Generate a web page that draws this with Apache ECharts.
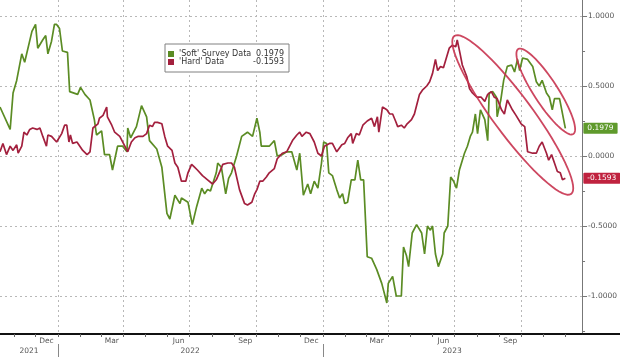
<!DOCTYPE html>
<html><head><meta charset="utf-8">
<script src="https://cdn.jsdelivr.net/npm/echarts@6/dist/echarts.min.js"></script>
<style>html,body{margin:0;padding:0;background:#fff}#c{width:620px;height:357px}</style>
</head><body><div id="c"></div>
<script>
// ---------- DATA ----------
const softName = "'Soft' Survey Data";
const hardName = "'Hard' Data";
const softDates = ['2021-10-13','2021-10-27','2021-10-31','2021-11-05','2021-11-12','2021-11-16','2021-11-26','2021-12-01','2021-12-04','2021-12-11','2021-12-15','2021-12-18','2021-12-23','2021-12-27','2021-12-30','2022-01-03','2022-01-07','2022-01-14','2022-01-17','2022-01-28','2022-02-01','2022-02-07','2022-02-14','2022-02-20','2022-02-23','2022-03-02','2022-03-06','2022-03-13','2022-03-17','2022-03-24','2022-03-31','2022-04-06','2022-04-07','2022-04-11','2022-04-19','2022-04-26','2022-05-03','2022-05-07','2022-05-17','2022-05-24','2022-05-31','2022-06-04','2022-06-11','2022-06-18','2022-06-20','2022-06-29','2022-07-05','2022-07-11','2022-07-18','2022-07-22','2022-07-26','2022-07-30','2022-08-02','2022-08-07','2022-08-09','2022-08-14','2022-08-20','2022-08-24','2022-08-28','2022-09-04','2022-09-11','2022-09-19','2022-09-26','2022-10-02','2022-10-06','2022-10-08','2022-10-19','2022-10-26','2022-10-30','2022-11-06','2022-11-12','2022-11-19','2022-11-26','2022-11-30','2022-12-05','2022-12-11','2022-12-15','2022-12-20','2022-12-25','2022-12-30','2023-01-02','2023-01-06','2023-01-09','2023-01-14','2023-01-20','2023-01-24','2023-01-28','2023-01-31','2023-02-04','2023-02-09','2023-02-14','2023-02-18','2023-02-22','2023-02-26','2023-03-03','2023-03-09','2023-03-16','2023-03-23','2023-03-30','2023-04-01','2023-04-07','2023-04-12','2023-04-19','2023-04-22','2023-04-26','2023-04-29','2023-05-04','2023-05-10','2023-05-17','2023-05-21','2023-05-25','2023-05-29','2023-06-01','2023-06-05','2023-06-09','2023-06-15','2023-06-17','2023-06-22','2023-06-26','2023-06-30','2023-07-04','2023-07-08','2023-07-15','2023-07-19','2023-07-23','2023-07-26','2023-07-30','2023-08-02','2023-08-06','2023-08-12','2023-08-16','2023-08-18','2023-08-23','2023-08-28','2023-08-29','2023-09-03','2023-09-07','2023-09-12','2023-09-18','2023-09-22','2023-09-26','2023-09-29','2023-10-03','2023-10-10','2023-10-17','2023-10-22','2023-10-26','2023-10-30','2023-11-05','2023-11-09','2023-11-13','2023-11-16','2023-11-23','2023-11-25','2023-12-01'];
const softValues = [0.35,0.19,0.45,0.54,0.73,0.67,0.89,0.94,0.77,0.83,0.86,0.73,0.82,0.94,0.94,0.91,0.75,0.74,0.46,0.44,0.49,0.44,0.40,0.26,0.15,0.18,0.01,0.01,-0.10,0.07,0.07,0.03,0.20,0.13,0.21,0.36,0.28,0.11,0.05,-0.08,-0.41,-0.45,-0.28,-0.34,-0.30,-0.33,-0.49,-0.36,-0.23,-0.27,-0.24,-0.25,-0.20,-0.12,-0.05,-0.08,-0.27,-0.16,-0.12,0.00,0.14,0.17,0.14,0.27,0.17,0.07,0.07,0.11,0.00,0.01,0.03,0.03,-0.10,0.02,-0.28,-0.20,-0.27,-0.18,-0.23,-0.05,0.10,0.09,-0.12,-0.14,-0.24,-0.30,-0.27,-0.34,-0.33,-0.17,-0.17,-0.03,-0.17,-0.17,-0.72,-0.73,-0.81,-0.91,-1.05,-0.91,-0.86,-1.00,-1.00,-0.65,-0.71,-0.79,-0.55,-0.49,-0.55,-0.70,-0.50,-0.53,-0.50,-0.70,-0.79,-0.70,-0.55,-0.50,-0.15,-0.18,-0.23,-0.10,0.02,0.07,0.14,0.17,0.30,0.16,0.33,0.26,0.11,0.45,0.46,0.42,0.28,0.40,0.54,0.64,0.65,0.60,0.69,0.61,0.70,0.69,0.64,0.53,0.50,0.54,0.45,0.42,0.33,0.41,0.41,0.40,0.1979];
const hardDates = ['2021-10-13','2021-10-17','2021-10-22','2021-10-27','2021-10-31','2021-11-05','2021-11-07','2021-11-12','2021-11-15','2021-11-19','2021-11-23','2021-11-27','2021-12-03','2021-12-07','2021-12-11','2021-12-16','2021-12-18','2021-12-23','2021-12-30','2022-01-06','2022-01-10','2022-01-13','2022-01-16','2022-01-18','2022-01-21','2022-01-27','2022-01-31','2022-02-04','2022-02-10','2022-02-14','2022-02-18','2022-02-25','2022-02-27','2022-03-04','2022-03-09','2022-03-10','2022-03-16','2022-03-20','2022-03-27','2022-04-03','2022-04-07','2022-04-12','2022-04-17','2022-04-21','2022-04-28','2022-05-03','2022-05-07','2022-05-11','2022-05-14','2022-05-18','2022-05-24','2022-05-28','2022-06-01','2022-06-07','2022-06-11','2022-06-15','2022-06-20','2022-06-26','2022-06-29','2022-07-04','2022-07-08','2022-07-12','2022-07-19','2022-07-26','2022-08-02','2022-08-07','2022-08-12','2022-08-16','2022-08-23','2022-08-28','2022-09-01','2022-09-08','2022-09-15','2022-09-19','2022-09-25','2022-09-29','2022-10-02','2022-10-06','2022-10-10','2022-10-15','2022-10-19','2022-10-26','2022-10-30','2022-11-06','2022-11-12','2022-11-20','2022-11-26','2022-11-30','2022-12-03','2022-12-09','2022-12-14','2022-12-20','2022-12-25','2022-12-30','2023-01-03','2023-01-10','2023-01-14','2023-01-20','2023-01-27','2023-01-31','2023-02-04','2023-02-09','2023-02-11','2023-02-16','2023-02-20','2023-02-25','2023-03-03','2023-03-09','2023-03-13','2023-03-17','2023-03-19','2023-03-24','2023-03-30','2023-04-03','2023-04-07','2023-04-11','2023-04-14','2023-04-19','2023-04-23','2023-04-27','2023-05-03','2023-05-07','2023-05-11','2023-05-14','2023-05-18','2023-05-24','2023-05-28','2023-06-01','2023-06-05','2023-06-08','2023-06-12','2023-06-16','2023-06-20','2023-06-24','2023-06-28','2023-07-03','2023-07-05','2023-07-09','2023-07-12','2023-07-18','2023-07-22','2023-07-26','2023-08-01','2023-08-07','2023-08-12','2023-08-16','2023-08-21','2023-08-25','2023-08-29','2023-09-04','2023-09-08','2023-09-12','2023-09-16','2023-09-19','2023-09-24','2023-10-01','2023-10-06','2023-10-10','2023-10-17','2023-10-22','2023-10-26','2023-10-30','2023-11-05','2023-11-08','2023-11-12','2023-11-16','2023-11-20','2023-11-24','2023-11-27','2023-12-01'];
const hardValues = [0.03,0.09,0.01,0.07,0.04,0.08,0.02,0.07,0.17,0.15,0.19,0.20,0.19,0.20,0.14,0.07,0.15,0.14,0.10,0.16,0.22,0.22,0.10,0.15,0.09,0.10,0.07,0.04,0.01,0.03,0.20,0.23,0.27,0.29,0.35,0.28,0.22,0.17,0.14,0.07,0.03,0.10,0.13,0.14,0.14,0.16,0.22,0.21,0.24,0.24,0.23,0.14,0.07,0.04,-0.05,-0.08,-0.18,-0.18,-0.12,-0.06,-0.08,-0.10,-0.14,-0.17,-0.20,-0.17,-0.11,-0.06,-0.05,-0.05,-0.08,-0.24,-0.34,-0.35,-0.33,-0.27,-0.24,-0.18,-0.18,-0.15,-0.12,-0.09,-0.02,0.02,0.03,0.11,0.15,0.17,0.14,0.17,0.16,0.10,0.02,0.00,0.07,0.09,0.09,0.03,0.08,0.09,0.13,0.16,0.09,0.16,0.15,0.22,0.25,0.27,0.21,0.28,0.17,0.35,0.33,0.30,0.30,0.25,0.21,0.22,0.20,0.23,0.26,0.30,0.38,0.44,0.47,0.50,0.53,0.59,0.69,0.61,0.64,0.63,0.70,0.77,0.79,0.78,0.83,0.73,0.65,0.57,0.48,0.45,0.42,0.42,0.39,0.44,0.46,0.42,0.41,0.33,0.30,0.40,0.36,0.33,0.29,0.23,0.21,0.03,0.02,0.02,0.07,0.10,0.02,-0.03,0.01,-0.05,-0.11,-0.12,-0.17,-0.1593];

// axis extents and tick / label positions
const axisStart = '2021-10-13';
const axisEnd = '2023-12-24';
const valueMin = -1.2714;
const valueMax = 1.1143;
const monthTickDates = ['2021-11-01','2021-12-01','2022-01-01','2022-02-01','2022-03-01','2022-04-01','2022-05-01','2022-06-01','2022-07-01','2022-08-01','2022-09-01','2022-10-01','2022-11-01','2022-12-01','2023-01-01','2023-02-01','2023-03-01','2023-04-01','2023-05-01','2023-06-01','2023-07-01','2023-08-01','2023-09-01','2023-10-01','2023-11-01','2023-12-01'];
const monthLabelDates = ['2021-12-16','2022-03-16','2022-06-16','2022-09-16','2022-12-16','2023-03-16','2023-06-16','2023-09-16'];
const quarterGridDates = ['2022-01-01','2022-04-01','2022-07-01','2022-10-01','2023-01-01','2023-04-01','2023-07-01','2023-10-01'];
const yearBoundaryDates = ['2022-01-01','2023-01-01'];
const yearLabelDates = ['2021-11-22','2022-07-02','2023-06-28'];
const yLabelValues = [-1, -0.5, 0, 0.5, 1];
const yMinorTickValues = [-1.25, -0.75, -0.25, 0.25, 0.75];
// hand-drawn annotation ellipses: [start date, start value], [end date, end value], half width (px)
const bigEllipse = [['2023-07-01', 0.857], ['2023-12-09', -0.271], 19.5];
const smallEllipse = [['2023-09-27', 0.764], ['2023-12-12', 0.157], 12];

// ---------- CHART ----------
const FONT = 'DejaVu Sans';
const GREEN = '#5b8c24';
const RED = '#a3203e';
const MONTHS = ['Jan','Feb','Mar','Apr','May','Jun','Jul','Aug','Sep','Oct','Nov','Dec'];
function ts(s) { return Date.UTC(+s.slice(0, 4), +s.slice(5, 7) - 1, +s.slice(8, 10)); }
const softLast = softValues[softValues.length - 1];
const hardLast = hardValues[hardValues.length - 1];
const lastOf = {}; lastOf[softName] = softLast; lastOf[hardName] = hardLast;
const xMin = ts(axisStart), xMax = ts(axisEnd);

const chart = echarts.init(document.getElementById('c'), null, {renderer: 'canvas'});
const gridLine = {show: true, lineStyle: {color: '#b8b8b8', width: 1, type: [2, 3]}};
const option = {
  animation: false,
  backgroundColor: '#fff',
  textStyle: {fontFamily: FONT},
  grid: [
    {left: 0, right: 37, top: 0, bottom: 23},
    {left: 583, right: 0, top: 0, bottom: 23}
  ],
  legend: {
    orient: 'vertical', left: 165, top: 44, icon: 'rect',
    itemWidth: 6, itemHeight: 6, itemGap: 0,
    padding: [6, 5, 6, 3],
    backgroundColor: '#fff', borderColor: '#808080', borderWidth: 1,
    data: [softName, hardName],
    formatter: function (name) {
      return '{n|' + name + '}{v|' + lastOf[name].toFixed(4) + '}';
    },
    textStyle: {
      fontFamily: FONT, fontSize: 8, color: '#333',
      rich: {
        n: {fontFamily: FONT, fontSize: 8, color: '#333', width: 76, lineHeight: 10},
        v: {fontFamily: FONT, fontSize: 8, color: '#333', width: 29, align: 'right', lineHeight: 10}
      }
    }
  },
  xAxis: [
    { // main date axis (timestamps)
      type: 'value', gridIndex: 0, min: xMin, max: xMax, position: 'bottom',
      axisLine: {show: true, onZero: false, lineStyle: {color: '#111', width: 2}},
      axisTick: {show: true, length: 3, inside: false, customValues: monthTickDates.map(ts), lineStyle: {color: '#666'}},
      axisLabel: {show: true, customValues: monthLabelDates.map(ts), margin: 3, fontFamily: FONT, fontSize: 7.5, color: '#555',
        showMinLabel: true, showMaxLabel: true,
        formatter: function (v) { return MONTHS[new Date(v).getUTCMonth()]; }},
      splitLine: {show: false}
    },
    { // quarterly vertical grid lines
      type: 'value', gridIndex: 0, min: xMin, max: xMax, position: 'bottom',
      axisLine: {show: false, onZero: false},
      axisTick: {show: false, customValues: quarterGridDates.map(ts)},
      axisLabel: {show: false},
      splitLine: gridLine
    },
    { // year row
      type: 'value', gridIndex: 0, min: xMin, max: xMax, position: 'bottom', offset: 10,
      axisLine: {show: false, onZero: false},
      axisTick: {show: true, length: 13, inside: false, customValues: yearBoundaryDates.map(ts), lineStyle: {color: '#888'}},
      axisLabel: {show: true, customValues: yearLabelDates.map(ts), margin: 3, fontFamily: FONT, fontSize: 7.5, color: '#555',
        showMinLabel: true, showMaxLabel: true,
        formatter: function (v) { return String(new Date(v).getUTCFullYear()); }},
      splitLine: {show: false}
    },
    { // bottom rule continued under the value axis
      type: 'value', gridIndex: 1, min: 0, max: 1,
      axisLine: {show: true, onZero: false, lineStyle: {color: '#111', width: 2}},
      axisTick: {show: false}, axisLabel: {show: false}, splitLine: {show: false}
    }
  ],
  yAxis: [
    { // main value axis with labels
      type: 'value', gridIndex: 0, position: 'right', min: valueMin, max: valueMax,
      axisLine: {show: true, onZero: false, lineStyle: {color: '#777', width: 1}},
      axisTick: {show: true, length: 3, inside: false, customValues: yMinorTickValues, lineStyle: {color: '#777'}},
      axisLabel: {show: true, customValues: yLabelValues, margin: 6, fontFamily: FONT, fontSize: 7.5, color: '#555',
        formatter: function (v) { return Number(v).toFixed(4); }},
      splitLine: {show: false}
    },
    { // major ticks + horizontal grid lines
      type: 'value', gridIndex: 0, position: 'right', min: valueMin, max: valueMax,
      axisLine: {show: false, onZero: false},
      axisTick: {show: true, length: 5, inside: false, customValues: yLabelValues, lineStyle: {color: '#777'}},
      axisLabel: {show: false},
      splitLine: gridLine
    },
    {type: 'value', gridIndex: 1, min: 0, max: 1, show: false}
  ],
  series: [
    {
      name: softName, type: 'line', xAxisIndex: 0, yAxisIndex: 0,
      data: softDates.map(function (d, i) { return [ts(d), softValues[i]]; }),
      showSymbol: false, symbol: 'none', lineStyle: {color: GREEN, width: 1.7}, itemStyle: {color: GREEN},
      endLabel: {show: true, distance: 18, formatter: function (p) { return Number(p.value[1]).toFixed(4); },
        color: '#fff', backgroundColor: '#5f9a2c', padding: [1, 4, 1, 4], fontFamily: FONT, fontSize: 7.5, lineHeight: 9, borderRadius: 1}
    },
    {
      name: hardName, type: 'line', xAxisIndex: 0, yAxisIndex: 0,
      data: hardDates.map(function (d, i) { return [ts(d), hardValues[i]]; }),
      showSymbol: false, symbol: 'none', lineStyle: {color: RED, width: 1.7}, itemStyle: {color: RED},
      endLabel: {show: true, distance: 18, formatter: function (p) { return Number(p.value[1]).toFixed(4); },
        color: '#fff', backgroundColor: '#c0223f', padding: [1, 4, 1, 4], fontFamily: FONT, fontSize: 7.5, lineHeight: 9, borderRadius: 1}
    }
  ]
};
chart.setOption(option);

// annotation ellipses positioned from data coordinates
function ellipse(spec) {
  const p1 = chart.convertToPixel({gridIndex: 0}, [ts(spec[0][0]), spec[0][1]]);
  const p2 = chart.convertToPixel({gridIndex: 0}, [ts(spec[1][0]), spec[1][1]]);
  const cx = (p1[0] + p2[0]) / 2, cy = (p1[1] + p2[1]) / 2;
  const a = Math.hypot(p2[0] - p1[0], p2[1] - p1[1]) / 2;
  const ang = Math.atan2(p2[1] - p1[1], p2[0] - p1[0]);
  const b = spec[2];
  const pts = [];
  for (let i = 0; i < 72; i++) {
    const t = 2 * Math.PI * i / 72;
    const x = a * Math.cos(t), y = b * Math.sin(t);
    pts.push([cx + x * Math.cos(ang) - y * Math.sin(ang), cy + x * Math.sin(ang) + y * Math.cos(ang)]);
  }
  return {type: 'polygon', z: 100, silent: true, shape: {points: pts},
    style: {fill: 'none', stroke: '#c8334f', lineWidth: 1.8, opacity: 0.9}};
}
chart.setOption({graphic: [ellipse(bigEllipse), ellipse(smallEllipse)]});
</script>
</body></html>
